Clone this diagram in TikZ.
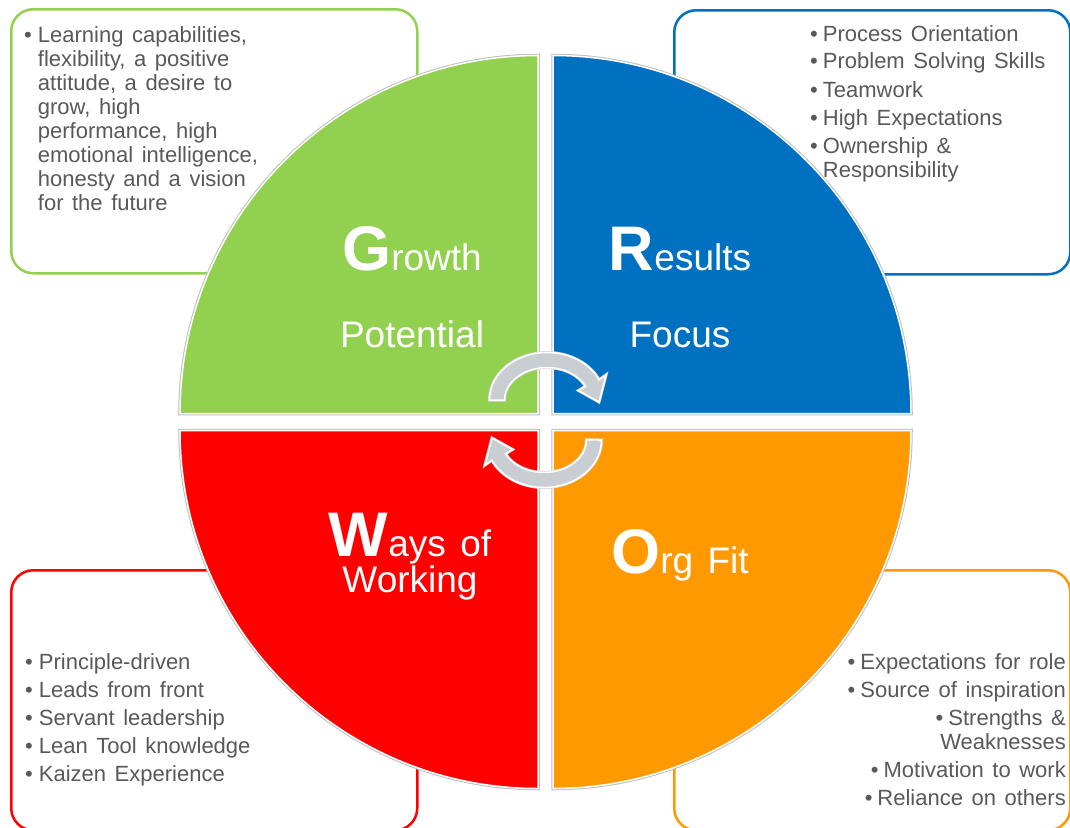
\documentclass[tikz,border=0pt]{standalone}
\usepackage{fontspec}
\setmainfont{Liberation Sans}
\newfontfamily\listfont{Liberation Sans}[WordSpace=1.6]
\newfontfamily\titlefont{Liberation Sans}[WordSpace=1.4]
\usetikzlibrary{positioning}

\definecolor{growthgreen}{HTML}{92D050}
\definecolor{resultsblue}{HTML}{0070C0}
\definecolor{waysred}{HTML}{FF0000}
\definecolor{fitorange}{HTML}{FF9900}
\definecolor{listgray}{HTML}{595959}
\definecolor{cyclegray}{HTML}{C8CED1}

\newcommand{\capletter}[1]{{\fontsize{63}{63}\selectfont\bfseries #1}}
\newcommand{\cyclepath}{(489.5,400) arc[start angle=180, end angle=335, x radius=57.5, y radius=47.5]
  -- (606,375) -- (599,402) -- (578.5,390.5) -- (585.5,386.3)
  arc[start angle=335, end angle=180, x radius=42.5, y radius=32.5] -- cycle}

\tikzset{
  infobox/.style={draw=#1, line width=2.5pt, rounded corners=22pt, fill=white, inner sep=0pt, anchor=north west},
  quarter/.style={fill=#1, draw=white, line width=1.5pt, preaction={draw=black!25, line width=3.5pt}},
  title/.style={text=white, font=\titlefont\fontsize{37}{40}\selectfont, inner sep=0pt},
  listnode/.style={text=listgray, inner sep=0pt, font=\listfont\fontsize{22}{24}\selectfont},
  cyclearrow/.style={fill=cyclegray, draw=white, line width=1.5pt, preaction={draw=black!15, line width=3pt}}
}

\begin{document}
\begin{tikzpicture}[x=1pt, y=-1pt]
\useasboundingbox (0,0) rectangle (1070,827);
\clip (0,0) rectangle (1070,827);

% boxes behind the circle
\node[infobox=growthgreen, minimum width=406pt, minimum height=264pt] (growthbox) at (10,8) {};
\node[infobox=resultsblue, minimum width=396pt, minimum height=264pt] (resultsbox) at (673,9) {};
\node[infobox=waysred, minimum width=406pt, minimum height=260pt] (waysbox) at (10,569) {};
\node[infobox=fitorange, minimum width=396pt, minimum height=260pt] (fitbox) at (673,569) {};

% the four quarters
\path[quarter=growthgreen] (538,413.5) -- ++(-358,0) arc[start angle=180, end angle=270, radius=358] -- cycle;
\path[quarter=resultsblue] (553,413.5) -- ++(0,-358) arc[start angle=270, end angle=360, radius=358] -- cycle;
\path[quarter=fitorange] (553,430.5) -- ++(358,0) arc[start angle=0, end angle=90, radius=358] -- cycle;
\path[quarter=waysred] (538,430.5) -- ++(0,358) arc[start angle=90, end angle=180, radius=358] -- cycle;

% titles
\node[title, anchor=base] (growth) at (412,270) {\capletter{G}rowth};
\node[title, below=77pt of growth.base, anchor=base] (potential) {Potential};
\node[title, anchor=base] (results) at (680,270) {\capletter{R}esults};
\node[title, below=77pt of results.base, anchor=base] (focus) {Focus};
\node[title, anchor=base] (ways) at (410,556) {\capletter{W}ays of};
\node[title, below=36pt of ways.base, anchor=base] (working) {Working};
\node[title, anchor=base] (orgfit) at (680,573) {\capletter{O}rg Fit};

% lists
\node[listnode, anchor=base west] (growthlist) at (24,42) {\begin{tabular}[t]{@{}l@{\hspace{6pt}}l@{}}
\textbullet & Learning capabilities,\\
 & flexibility, a positive\\
 & attitude, a desire to\\
 & grow, high\\
 & performance, high\\
 & emotional intelligence,\\
 & honesty and a vision\\
 & for the future
\end{tabular}};
\node[listnode, anchor=base west] (resultslist) at (810,41) {\begin{tabular}[t]{@{}l@{\hspace{5pt}}l@{}}
\textbullet & Process Orientation\\[4pt]
\textbullet & Problem Solving Skills\\[4pt]
\textbullet & Teamwork\\[4pt]
\textbullet & High Expectations\\[4pt]
\textbullet & Ownership \&\\
 & Responsibility
\end{tabular}};
\node[listnode, anchor=base west] (wayslist) at (25,669) {\begin{tabular}[t]{@{}l@{\hspace{6pt}}l@{}}
\textbullet & Principle-driven\\[4pt]
\textbullet & Leads from front\\[4pt]
\textbullet & Servant leadership\\[4pt]
\textbullet & Lean Tool knowledge\\[4pt]
\textbullet & Kaizen Experience
\end{tabular}};
\node[listnode, anchor=base east] (fitlist) at (1066,669) {\begin{tabular}[t]{@{}r@{}}
\textbullet\hspace{5pt}Expectations for role\\[4pt]
\textbullet\hspace{5pt}Source of inspiration\\[4pt]
\textbullet\hspace{5pt}Strengths \&\\
Weaknesses\\[4pt]
\textbullet\hspace{5pt}Motivation to work\\[4pt]
\textbullet\hspace{5pt}Reliance on others
\end{tabular}};

% cycle arrows in the middle
\path[cyclearrow] \cyclepath;
\begin{scope}[rotate around={180:(545.5,420)}]
  \path[cyclearrow] \cyclepath;
\end{scope}
\end{tikzpicture}
\end{document}
